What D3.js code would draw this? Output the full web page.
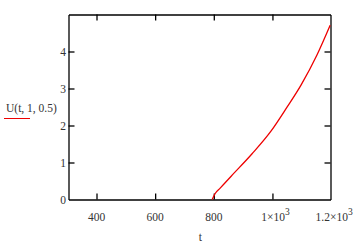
<!DOCTYPE html>
<html><head><meta charset="utf-8">
<script src="https://cdn.jsdelivr.net/npm/d3@7"></script>
<style>body{margin:0;background:#fff}svg text{font-family:"Liberation Serif","DejaVu Serif",serif;fill:#333}</style>
</head><body>
<svg id="c" width="363" height="246"></svg>
<script>
const tValues = [794.5, 804.7, 821.7, 859.2, 929.8, 995.6, 1049.2, 1097.9, 1151.4, 1196.8];
const uValues = [0.000, 0.162, 0.308, 0.630, 1.230, 1.854, 2.490, 3.100, 3.900, 4.711];
const xTicks = [400, 600, 800, 1000, 1200];
const xTickMain = ["400", "600", "800", "1\u00d710", "1.2\u00d710"];
const xTickSup = ["", "", "", "3", "3"];
const yTicks = [0, 1, 2, 3, 4];
const yLabel = "U(t, 1, 0.5)";
const xLabel = "t";

const svg = d3.select("#c");
const L = 68.5, R = 330.5, T = 14.5, B = 199.5;
const x = d3.scaleLinear().domain([304.5, 1198]).range([L, R]);
const y = d3.scaleLinear().domain([0, 5]).range([B, T]);

const g = svg.append("g");
const innerX = xTicks.filter(v => v < 1190);
const innerY = yTicks.filter(v => v > 0);
g.append("g").attr("transform", `translate(0,${B})`)
  .call(d3.axisBottom(x).tickValues(innerX).tickSize(-6).tickFormat("").tickSizeOuter(0));
g.append("g").attr("transform", `translate(0,${T})`)
  .call(d3.axisTop(x).tickValues(innerX).tickSize(-6).tickFormat("").tickSizeOuter(0));
g.append("g").attr("transform", `translate(${L},0)`)
  .call(d3.axisLeft(y).tickValues(innerY).tickSize(-6).tickFormat("").tickSizeOuter(0));
g.append("g").attr("transform", `translate(${R},0)`)
  .call(d3.axisRight(y).tickValues(innerY).tickSize(-6).tickFormat("").tickSizeOuter(0));
g.selectAll("path.domain").attr("stroke", "#000").attr("stroke-width", 1.3);
g.selectAll(".tick line").attr("stroke", "#000").attr("stroke-width", 1.3);

svg.selectAll("text.yt").data(yTicks).enter().append("text")
  .attr("x", 66).attr("y", d => y(d) + 4).attr("text-anchor", "end")
  .attr("font-size", 11.5).text(d => d);

xTicks.forEach((v, i) => {
  const t = svg.append("text").attr("y", 221).attr("font-size", 11.5).attr("text-anchor", "middle")
    .attr("x", x(v) + (xTickSup[i] ? 3 : 0));
  t.append("tspan").text(xTickMain[i]);
  if (xTickSup[i]) t.append("tspan").attr("dy", -6).attr("font-size", 9.5).text(xTickSup[i]);
});

svg.append("text").attr("x", x(800) - 13.5).attr("y", 241).attr("font-size", 11.5)
  .attr("text-anchor", "middle").text(xLabel);
svg.append("text").attr("x", 6).attr("y", 112).attr("font-size", 11.5).text(yLabel);
svg.append("line").attr("x1", 4).attr("x2", 30).attr("y1", 118.5).attr("y2", 118.5)
  .attr("stroke", "#e00").attr("stroke-width", 1);

const line = d3.line().x((d, i) => x(tValues[i])).y(d => y(d)).curve(d3.curveMonotoneX);
svg.append("path").datum(uValues).attr("d", line).attr("fill", "none")
  .attr("stroke", "#e00").attr("stroke-width", 1.3);
</script>
</body></html>
